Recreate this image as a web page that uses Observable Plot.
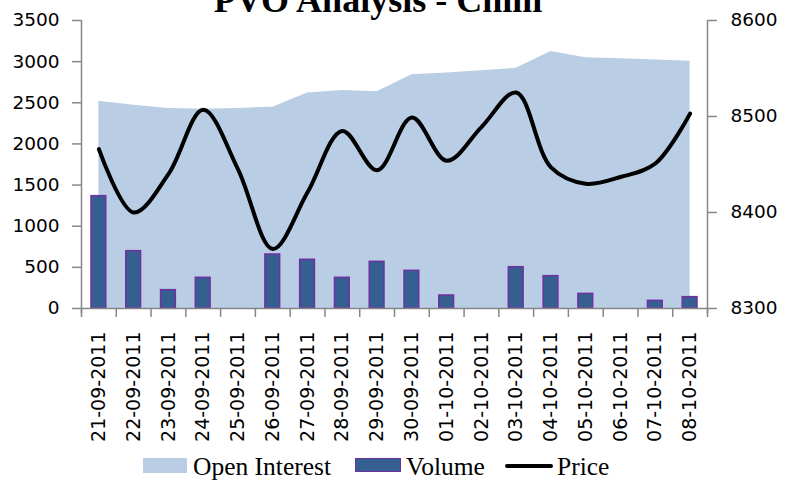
<!DOCTYPE html>
<html>
<head>
<meta charset="utf-8">
<script src="https://cdn.jsdelivr.net/npm/d3@7"></script>
<script src="https://cdn.jsdelivr.net/npm/@observablehq/plot@0.6"></script>
<style>
  html, body { margin: 0; padding: 0; background: #fff; }
  #wrap { position: relative; width: 793px; height: 487px; overflow: hidden; background: #fff; }
  #title { position: absolute; left: 0; width: 756px; top: -17.6px; text-align: center;
           font-family: "Liberation Serif", serif; font-weight: bold; font-size: 36px; line-height: 36px; color: #000; white-space: nowrap; }
  #chart { position: absolute; left: 0; top: 0; }
  .lg { position: absolute; }
  .lgt { position: absolute; font-family: "Liberation Serif", serif; font-size: 25.5px; line-height: 25.5px; color: #000; white-space: nowrap; top: 454px; }
</style>
</head>
<body>
<div id="wrap">
  <div id="chart"></div>
  <div id="title">PVO Analysis - Chilli</div>
  <div class="lg" style="left:143px; top:458px; width:44px; height:15px; background:#b9cde5;"></div>
  <div class="lgt" style="left:193px;">Open Interest</div>
  <div class="lg" style="left:355px; top:458px; width:44px; height:12px; background:#355f91; border:1.5px solid #7030a0;"></div>
  <div class="lgt" style="left:406px;">Volume</div>
  <div class="lg" style="left:505px; top:464px; width:48px; height:4px; background:#000; border-radius:2px;"></div>
  <div class="lgt" style="left:557px;">Price</div>
</div>
<script>
const dates = ["21-09-2011","22-09-2011","23-09-2011","24-09-2011","25-09-2011","26-09-2011",
  "27-09-2011","28-09-2011","29-09-2011","30-09-2011","01-10-2011","02-10-2011",
  "03-10-2011","04-10-2011","05-10-2011","06-10-2011","07-10-2011","08-10-2011"];
const openInterest = [2520, 2470, 2430, 2420, 2432, 2447, 2620, 2650, 2633, 2840, 2862, 2890, 2920, 3122, 3046, 3035, 3020, 3006];
const volume = [1365, 697, 223, 373, null, 656, 592, 373, 567, 458, 158, null, 502, 393, 178, null, 93, 138];
const price = [8466, 8400, 8440, 8507, 8445, 8362, 8421, 8485, 8444, 8499, 8454, 8489, 8525, 8447, 8430, 8437, 8451, 8503];
const leftTicks = [0, 500, 1000, 1500, 2000, 2500, 3000, 3500];
const rightTicks = [8300, 8400, 8500, 8600];

const W = 793, H = 445, mL = 81, mR = 86, mT = 20, mB = 137;
const bw = (W - mL - mR) / dates.length;
const yMax = 3500, pMin = 8300, pMax = 8600;
const toY = p => (p - pMin) / (pMax - pMin) * yMax;
const fromY = v => String(Math.round(pMin + v / yMax * (pMax - pMin)));

const data = dates.map((d, i) => ({date: d, oi: openInterest[i], vol: volume[i], price: price[i]}));
const axisGray = "#868686";
const tickDepth = -9 / ((H - mT - mB) / yMax);

const chart = Plot.plot({
  width: W, height: H,
  marginLeft: mL, marginRight: mR, marginTop: mT, marginBottom: mB,
  style: {fontFamily: "DejaVu Sans", fontSize: "18.5px", color: "#000", background: "transparent"},
  x: {type: "band", domain: dates, padding: 0, round: false},
  y: {domain: [0, yMax]},
  marks: [
    Plot.areaY(data, {x: "date", y: "oi", fill: "#b9cde5"}),
    Plot.barY(data.filter(d => d.vol != null), {x: "date", y: "vol", fill: "#355f91", stroke: "#7030a0", strokeWidth: 1.5, insetLeft: 10, insetRight: 10}),
    Plot.lineY(data, {x: "date", y: d => toY(d.price), stroke: "#000", strokeWidth: 4, curve: "catmull-rom"}),
    Plot.ruleY([0], {stroke: axisGray, strokeWidth: 1.5}),
    Plot.ruleX(dates, {x: d => d, y1: 0, y2: tickDepth, dx: -bw / 2, stroke: axisGray, strokeWidth: 1.5}),
    Plot.ruleX([dates[0]], {x: d => d, y1: tickDepth * 0.6, y2: yMax, dx: -bw / 2, stroke: axisGray, strokeWidth: 1.5}),
    Plot.ruleX([dates[dates.length - 1]], {x: d => d, y1: tickDepth * 0.6, y2: yMax, dx: bw / 2, stroke: axisGray, strokeWidth: 1.5}),
    Plot.ruleX([dates[dates.length - 1]], {x: d => d, y1: 0, y2: tickDepth, dx: bw / 2, stroke: axisGray, strokeWidth: 1.5}),
    Plot.axisY(leftTicks, {anchor: "left", tickSize: 9, tickPadding: 13, tickFormat: d => String(d), stroke: axisGray, strokeWidth: 1.5, label: null}),
    Plot.axisY(rightTicks.map(toY), {anchor: "right", tickSize: 9, tickPadding: 14, tickFormat: fromY, stroke: axisGray, strokeWidth: 1.5, label: null}),
    Plot.axisX({tickSize: 0, tickPadding: 23, tickRotate: -90, fontSize: 19, label: null})
  ]
});
document.getElementById("chart").appendChild(chart);
</script>
</body>
</html>
